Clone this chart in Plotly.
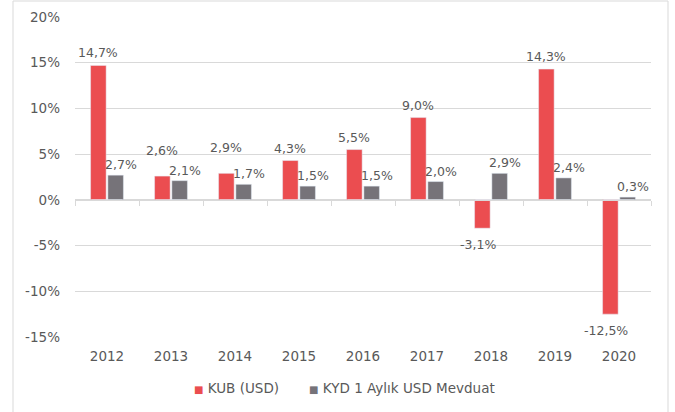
import plotly.graph_objects as go

years = ["2012", "2013", "2014", "2015", "2016", "2017", "2018", "2019", "2020"]
kub_usd = [14.7, 2.6, 2.9, 4.3, 5.5, 9.0, -3.1, 14.3, -12.5]
kyd_usd = [2.7, 2.1, 1.7, 1.5, 1.5, 2.0, 2.9, 2.4, 0.3]
y_ticks = [-15, -10, -5, 0, 5, 10, 15, 20]
y_tick_labels = ["-15%", "-10%", "-5%", "0%", "5%", "10%", "15%", "20%"]
series_names = ["KUB (USD)", "KYD 1 Aylık USD Mevduat"]

RED = "#EB4D50"
GRAY = "#767379"
TXT = "#595959"
GRID = "#D9D9D9"
FONT = "DejaVu Sans"
BARGAP = 0.46

def fmt(v):
    return f"{v:.1f}".replace(".", ",") + "%"

fig = go.Figure()
fig.add_trace(go.Bar(x=years, y=kub_usd, name=series_names[0], marker_color=RED,
                     showlegend=False))
fig.add_trace(go.Bar(x=years, y=kyd_usd, name=series_names[1], marker_color=GRAY,
                     showlegend=False))
# invisible trace to build the zero-line axis with boundary ticks
fig.add_trace(go.Bar(x=years, y=[0] * len(years), xaxis="x2", showlegend=False,
                     marker_color="rgba(0,0,0,0)", hoverinfo="skip"))

# data labels
half = (1 - BARGAP) / 4
annotations = []
for i, (r, g) in enumerate(zip(kub_usd, kyd_usd)):
    # red series label
    if r >= 0:
        extra = 13 if (g >= 0 and abs(r - g) < 1.5) else 0
        annotations.append(dict(x=i - half, y=r, xref="x", yref="y", text=fmt(r),
                                showarrow=False, yanchor="bottom", yshift=3 + extra))
    else:
        annotations.append(dict(x=i - half, y=r, xref="x", yref="y", text=fmt(r),
                                showarrow=False, yanchor="top", yshift=-7, xshift=-4))
    # gray series label
    annotations.append(dict(x=i + half, y=g, xref="x", yref="y", text=fmt(g),
                            showarrow=False, yanchor="bottom", yshift=1, xshift=5))
for a in annotations:
    a["font"] = dict(family=FONT, size=12.5, color=TXT)

# custom legend (small squares tight to the text)
sq = "<span style='color:{c};font-size:10px'>■</span> "
legend_text = (sq.format(c=RED) + series_names[0]
               + "       " + sq.format(c=GRAY) + series_names[1])
annotations.append(dict(x=(344 - 75) / 576, y=-51 / 320, xref="paper", yref="paper",
                        xanchor="center", yanchor="middle", showarrow=False,
                        text=legend_text, font=dict(family=FONT, size=13.5, color=TXT)))

fig.update_layout(
    width=675, height=412,
    margin=dict(l=75, r=24, t=17, b=75, autoexpand=False),
    paper_bgcolor="white", plot_bgcolor="white",
    font=dict(family=FONT, size=13, color=TXT),
    barmode="group", bargap=BARGAP, bargroupgap=0.1,
    showlegend=False,
    annotations=annotations,
    xaxis=dict(type="category", categoryorder="array", categoryarray=years,
               showline=False, showgrid=False, ticks="", automargin=False,
               ticklabelstandoff=9, tickfont=dict(size=13.5, color=TXT)),
    xaxis2=dict(type="category", categoryorder="array", categoryarray=years,
                matches="x", overlaying="x", anchor="free", position=15 / 35,
                showline=True, linecolor=GRID, linewidth=1, automargin=False,
                ticks="outside", tickson="boundaries", ticklen=5, tickcolor=GRID,
                showticklabels=False, showgrid=False),
    yaxis=dict(range=[-15, 20], tickvals=y_ticks, ticktext=y_tick_labels,
               showgrid=True, gridcolor=GRID, gridwidth=1, zeroline=False,
               showline=False, ticks="", ticklabelstandoff=14, automargin=False,
               tickfont=dict(size=13.5, color=TXT)),
    shapes=[dict(type="rect", xref="paper", yref="paper",
                 x0=-62 / 576, x1=(668 - 75) / 576, y0=-80 / 320, y1=1 + 16 / 320,
                 line=dict(color=GRID, width=1), fillcolor="rgba(0,0,0,0)", layer="above")],
)

fig.write_html("out.html", config={"displayModeBar": False},
               post_script="document.body.style.margin='0';")
